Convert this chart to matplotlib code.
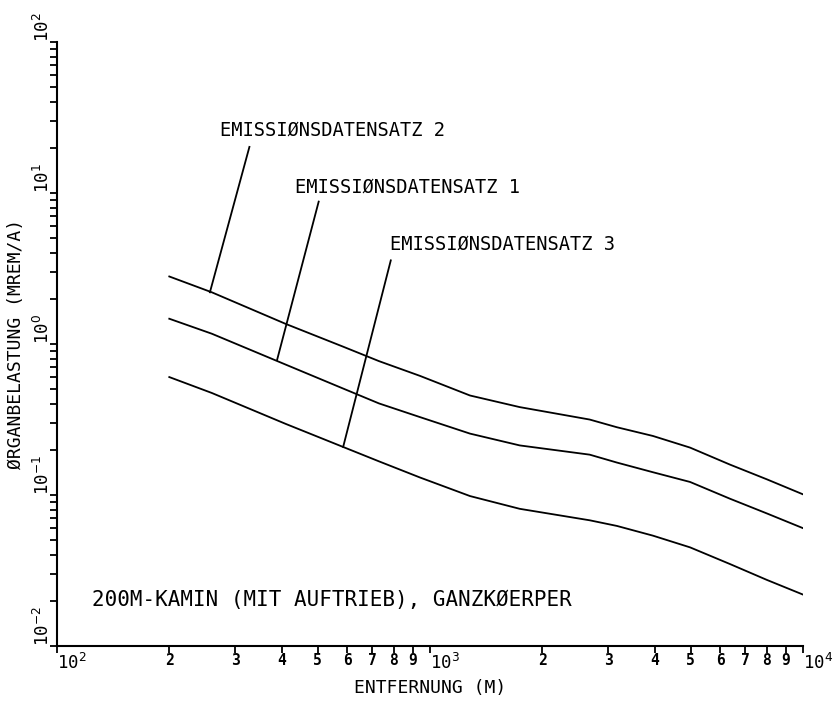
import matplotlib
matplotlib.use("Agg")
import matplotlib.pyplot as plt
import matplotlib.transforms as mtransforms

plt.rcParams['font.family'] = ['DejaVu Sans Mono', 'DejaVu Sans']
plt.rcParams['mathtext.fontset'] = 'dejavusans'

# distance (m)
distance = [200, 260, 410, 585, 730, 940, 1280, 1740, 2680, 3170, 3960, 4980, 6370, 8000, 10000]
# dose (mrem/a) for the three emission data sets
satz2 = [2.80, 2.20, 1.36, 0.96, 0.77, 0.615, 0.456, 0.382, 0.316, 0.281, 0.246, 0.206, 0.159, 0.127, 0.101]
satz1 = [1.47, 1.17, 0.731, 0.507, 0.404, 0.328, 0.255, 0.213, 0.185, 0.164, 0.1415, 0.122, 0.0945, 0.0755, 0.0603]
satz3 = [0.604, 0.474, 0.296, 0.208, 0.167, 0.1306, 0.0984, 0.081, 0.068, 0.0624, 0.0538, 0.045, 0.0349, 0.0274, 0.0219]

labels = ["EMISSIØNSDATENSATZ 2", "EMISSIØNSDATENSATZ 1", "EMISSIØNSDATENSATZ 3"]
# leader lines: (x, y) at label end and on curve
leader2 = ([328, 257], [20.2, 2.20])
leader1 = ([503, 389], [8.77, 0.783])
leader3 = ([785, 585], [3.58, 0.208])

x_major = [100, 1000, 10000]
x_major_labels = ["10$^{2}$", "10$^{3}$", "10$^{4}$"]
x_minor_digits = [2, 3, 4, 5, 6, 7, 8, 9]
y_major = [0.01, 0.1, 1, 10, 100]
y_major_labels = ["10$^{-2}$", "10$^{-1}$", "10$^{0}$", "10$^{1}$", "10$^{2}$"]

fig = plt.figure(figsize=(8.35, 7.02), dpi=100)
ax = fig.add_axes([57 / 835, 1 - 646 / 702, 746 / 835, 604 / 702])
ax.set_xscale('log')
ax.set_yscale('log')
ax.set_xlim(100, 10000)
ax.set_ylim(0.01, 100)

for s in ['top', 'right']:
    ax.spines[s].set_visible(False)
for s in ['left', 'bottom']:
    ax.spines[s].set_linewidth(1.5)

lw = 1.3
for ser in (satz2, satz1, satz3):
    ax.plot(distance, ser, color='black', lw=lw, solid_joinstyle='round')
for ld in (leader2, leader1, leader3):
    ax.plot(ld[0], ld[1], color='black', lw=lw)

# ticks
xminor = [d * m for d in [100, 1000] for m in x_minor_digits]
ax.set_xticks(x_major + xminor)
ax.set_xticklabels([])
ax.xaxis.set_minor_locator(matplotlib.ticker.NullLocator())
yminor = [d * m for d in [0.01, 0.1, 1, 10] for m in range(2, 10)]
ax.set_yticks(y_major + yminor)
ax.set_yticklabels([])
ax.yaxis.set_minor_locator(matplotlib.ticker.NullLocator())
ax.tick_params(axis='both', direction='out', length=5, width=1.3, color='black')

tx = mtransforms.blended_transform_factory(ax.transData, ax.transAxes)
ty = mtransforms.blended_transform_factory(ax.transAxes, ax.transData)
for v, lab in zip(x_major, x_major_labels):
    ax.text(v, -0.012, lab, transform=tx, ha='left', va='top', fontsize=12.5)
for d in [100, 1000]:
    for m in x_minor_digits:
        ax.text(d * m, -0.012, str(m), transform=tx, ha='center', va='top',
                fontsize=10.5, fontweight='bold')
for v, lab in zip(y_major, y_major_labels):
    ax.text(-0.006, v, lab, transform=ty, ha='right', va='bottom', rotation=90, fontsize=12.5)

fig.text(430 / 835, 1 - 688 / 702, "ENTFERNUNG (M)", ha='center', va='center', fontsize=13)
fig.text(16 / 835, 1 - 344 / 702, "ØRGANBELASTUNG (MREM/A)", rotation=90,
         ha='center', va='center', fontsize=13)

fig.text(220 / 835, 1 - 130 / 702, labels[0], ha='left', va='center', fontsize=13.5)
fig.text(295 / 835, 1 - 187 / 702, labels[1], ha='left', va='center', fontsize=13.5)
fig.text(390 / 835, 1 - 244 / 702, labels[2], ha='left', va='center', fontsize=13.5)
fig.text(92 / 835, 1 - 600 / 702, "200M-KAMIN (MIT AUFTRIEB), GANZKØERPER",
         ha='left', va='center', fontsize=15)

fig.savefig("out.png", dpi=100)
